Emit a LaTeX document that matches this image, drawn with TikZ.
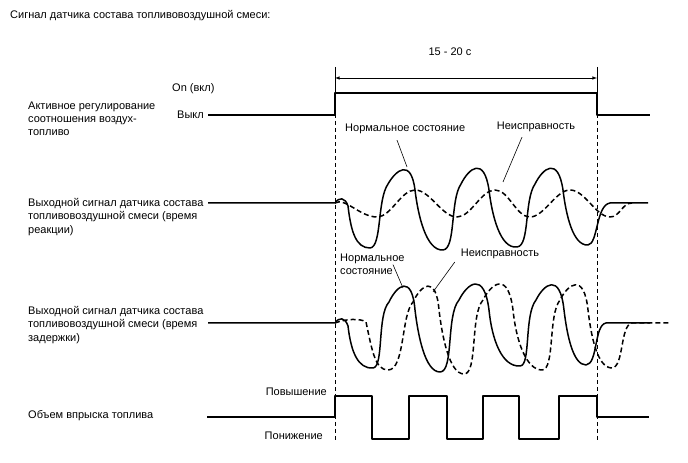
\documentclass[tikz,border=0pt]{standalone}
\usepackage{fontspec}
\setmainfont{Liberation Sans}
\begin{document}
\begin{tikzpicture}[>=latex,line join=bevel,
  txt/.style={draw=none,inner sep=0bp,align=left,font=\fontsize{11bp}{13.2bp}\selectfont},
  sig/.style={black,line width=1.5bp},
  fault/.style={black,line width=1.5bp,dash pattern=on 5bp off 3bp},
  guide/.style={black,line width=0.6bp,dash pattern=on 4bp off 3bp},
  lead/.style={black,line width=0.6bp},
]
\useasboundingbox (0bp,0bp) rectangle (688bp,463bp);
%%
\node (title) at (10bp,447bp) [txt,anchor=west] {Сигнал датчика состава топливовоздушной смеси:};
  \node (lbl_ctrl) at (28bp,344bp) [txt,anchor=west] {Активное регулирование\\соотношения воздух-\\топливо};
  \node (lbl_resp) at (28bp,246bp) [txt,anchor=west] {Выходной сигнал датчика состава\\топливовоздушной смеси (время\\реакции)};
  \node (lbl_delay) at (28bp,138bp) [txt,anchor=west] {Выходной сигнал датчика состава\\топливовоздушной смеси (время\\задержки)};
  \node (lbl_inj) at (28bp,47bp) [txt,anchor=west] {Объем впрыска топлива};
  \node (lbl_on) at (172bp,374bp) [txt,anchor=west] {On (вкл)};
  \node (lbl_off) at (177bp,348bp) [txt,anchor=west] {Выкл};
  \node (lbl_rich) at (327bp,71bp) [txt,anchor=east] {Повышение};
  \node (lbl_lean) at (323bp,27bp) [txt,anchor=east] {Понижение};
  \node (lbl_span) at (450bp,411bp) [txt] {15 - 20 с};
  \node (ok_resp) at (345bp,334bp) [txt,anchor=west] {Нормальное состояние};
  \node (bad_resp) at (536bp,336bp) [txt] {Неисправность};
  \node (ok_delay) at (340bp,199bp) [txt,anchor=west] {Нормальное\\состояние};
  \node (bad_delay) at (500bp,209bp) [txt] {Неисправность};
%
\coordinate (on_tick) at (335bp,396bp);
  \coordinate (on_step) at (335bp,370bp);
  \coordinate (on_end) at (335bp,21bp);
  \coordinate (off_tick) at (597bp,396bp);
  \coordinate (off_step) at (597bp,370bp);
  \coordinate (off_end) at (597bp,21bp);
  \coordinate (span_l) at (335bp,385bp);
  \coordinate (span_r) at (597bp,385bp);
  \draw [lead] (on_tick) -- (on_step);
  \draw [lead] (off_tick) -- (off_step);
  \draw [guide] (on_step) -- (on_end);
  \draw [guide] (off_step) -- (off_end);
  \draw [lead,<->] (span_l) -- (span_r);
%
\draw [sig] (208bp,348bp) -- (335bp,348bp) -- (335bp,370bp) -- (597bp,370bp) -- (597bp,348bp) -- (650bp,348bp);
%
\draw [sig] (208bp,260bp) -- (335bp,260bp) ..controls (339bp,266bp) and (345bp,266bp) .. (348bp,257bp)
  ..controls (351bp,231bp) and (356bp,215bp) .. (370bp,215bp)
  ..controls (382bp,216bp) and (377bp,263bp) .. (388bp,279bp)
  ..controls (396bp,293bp) and (411bp,305bp) .. (415bp,273bp)
  ..controls (418bp,248bp) and (426bp,212bp) .. (443bp,213bp)
  ..controls (456bp,214bp) and (450bp,263bp) .. (461bp,279bp)
  ..controls (469bp,295bp) and (484bp,307bp) .. (489bp,273bp)
  ..controls (492bp,248bp) and (500bp,214bp) .. (517bp,216bp)
  ..controls (530bp,217bp) and (524bp,263bp) .. (535bp,279bp)
  ..controls (543bp,295bp) and (558bp,307bp) .. (563bp,273bp)
  ..controls (566bp,248bp) and (573bp,217bp) .. (588bp,218bp)
  ..controls (598bp,219bp) and (596bp,258bp) .. (610bp,260bp) -- (648bp,260bp);
\draw [fault] (335bp,260bp) ..controls (345bp,266bp) and (360bp,246bp) .. (377bp,246bp)
  ..controls (391bp,246bp) and (401bp,273bp) .. (415bp,273bp)
  ..controls (430bp,273bp) and (442bp,246bp) .. (457bp,246bp)
  ..controls (471bp,246bp) and (481bp,273bp) .. (495bp,273bp)
  ..controls (509bp,273bp) and (516bp,246bp) .. (530bp,246bp)
  ..controls (544bp,246bp) and (556bp,273bp) .. (570bp,273bp)
  ..controls (585bp,273bp) and (596bp,246bp) .. (610bp,246bp)
  ..controls (620bp,246bp) and (622bp,260bp) .. (632bp,260bp);
%
\draw [sig] (208bp,140bp) -- (335bp,140bp) ..controls (339bp,146bp) and (345bp,146bp) .. (348bp,137bp)
  ..controls (351bp,111bp) and (358bp,94bp) .. (373bp,95bp)
  ..controls (384bp,96bp) and (377bp,148bp) .. (389bp,161bp)
  ..controls (397bp,178bp) and (412bp,189bp) .. (415bp,153bp)
  ..controls (418bp,128bp) and (425bp,91bp) .. (440bp,91bp)
  ..controls (454bp,91bp) and (446bp,148bp) .. (459bp,163bp)
  ..controls (467bp,179bp) and (484bp,193bp) .. (489bp,153bp)
  ..controls (492bp,123bp) and (502bp,96bp) .. (520bp,97bp)
  ..controls (531bp,97bp) and (524bp,148bp) .. (536bp,163bp)
  ..controls (544bp,179bp) and (560bp,191bp) .. (564bp,153bp)
  ..controls (567bp,128bp) and (573bp,98bp) .. (586bp,98bp)
  ..controls (598bp,99bp) and (594bp,138bp) .. (606bp,140bp) -- (650bp,140bp);
\draw [fault] (335bp,140bp) ..controls (345bp,144bp) and (360bp,145bp) .. (366bp,141bp)
  ..controls (372bp,113bp) and (375bp,93bp) .. (388bp,93bp)
  ..controls (405bp,93bp) and (401bp,148bp) .. (413bp,161bp)
  ..controls (421bp,178bp) and (436bp,189bp) .. (439bp,153bp)
  ..controls (442bp,128bp) and (449bp,89bp) .. (464bp,89bp)
  ..controls (478bp,89bp) and (470bp,148bp) .. (483bp,163bp)
  ..controls (491bp,179bp) and (508bp,193bp) .. (513bp,153bp)
  ..controls (516bp,123bp) and (526bp,93bp) .. (542bp,93bp)
  ..controls (555bp,93bp) and (548bp,148bp) .. (560bp,163bp)
  ..controls (568bp,179bp) and (584bp,191bp) .. (588bp,153bp)
  ..controls (591bp,128bp) and (597bp,95bp) .. (612bp,95bp)
  ..controls (624bp,96bp) and (620bp,138bp) .. (632bp,140bp) -- (670bp,140bp);
%
\draw [sig] (207bp,46bp) -- (335bp,46bp) -- (335bp,67bp) -- (372bp,67bp) -- (372bp,24bp) -- (409bp,24bp)
  -- (409bp,67bp) -- (447bp,67bp) -- (447bp,24bp) -- (483bp,24bp) -- (483bp,67bp) -- (519bp,67bp)
  -- (519bp,24bp) -- (559bp,24bp) -- (559bp,67bp) -- (597bp,67bp) -- (597bp,46bp) -- (649bp,46bp);
%
\coordinate (pk_ok_resp) at (407bp,296bp);
  \coordinate (pk_bad_resp) at (503bp,281bp);
  \coordinate (pk_ok_delay) at (403bp,175bp);
  \coordinate (pk_bad_delay) at (433bp,171bp);
  \draw [lead] ([xshift=52bp,yshift=-6bp]ok_resp.south west) -- (pk_ok_resp);
  \draw [lead] ([xshift=-14bp,yshift=-5bp]bad_resp.south) -- (pk_bad_resp);
  \draw [lead] ([xshift=53bp,yshift=10bp]ok_delay.south west) -- (pk_ok_delay);
  \draw [lead] ([xshift=-6bp,yshift=-3bp]bad_delay.south west) -- (pk_bad_delay);
%
\end{tikzpicture}
\end{document}
